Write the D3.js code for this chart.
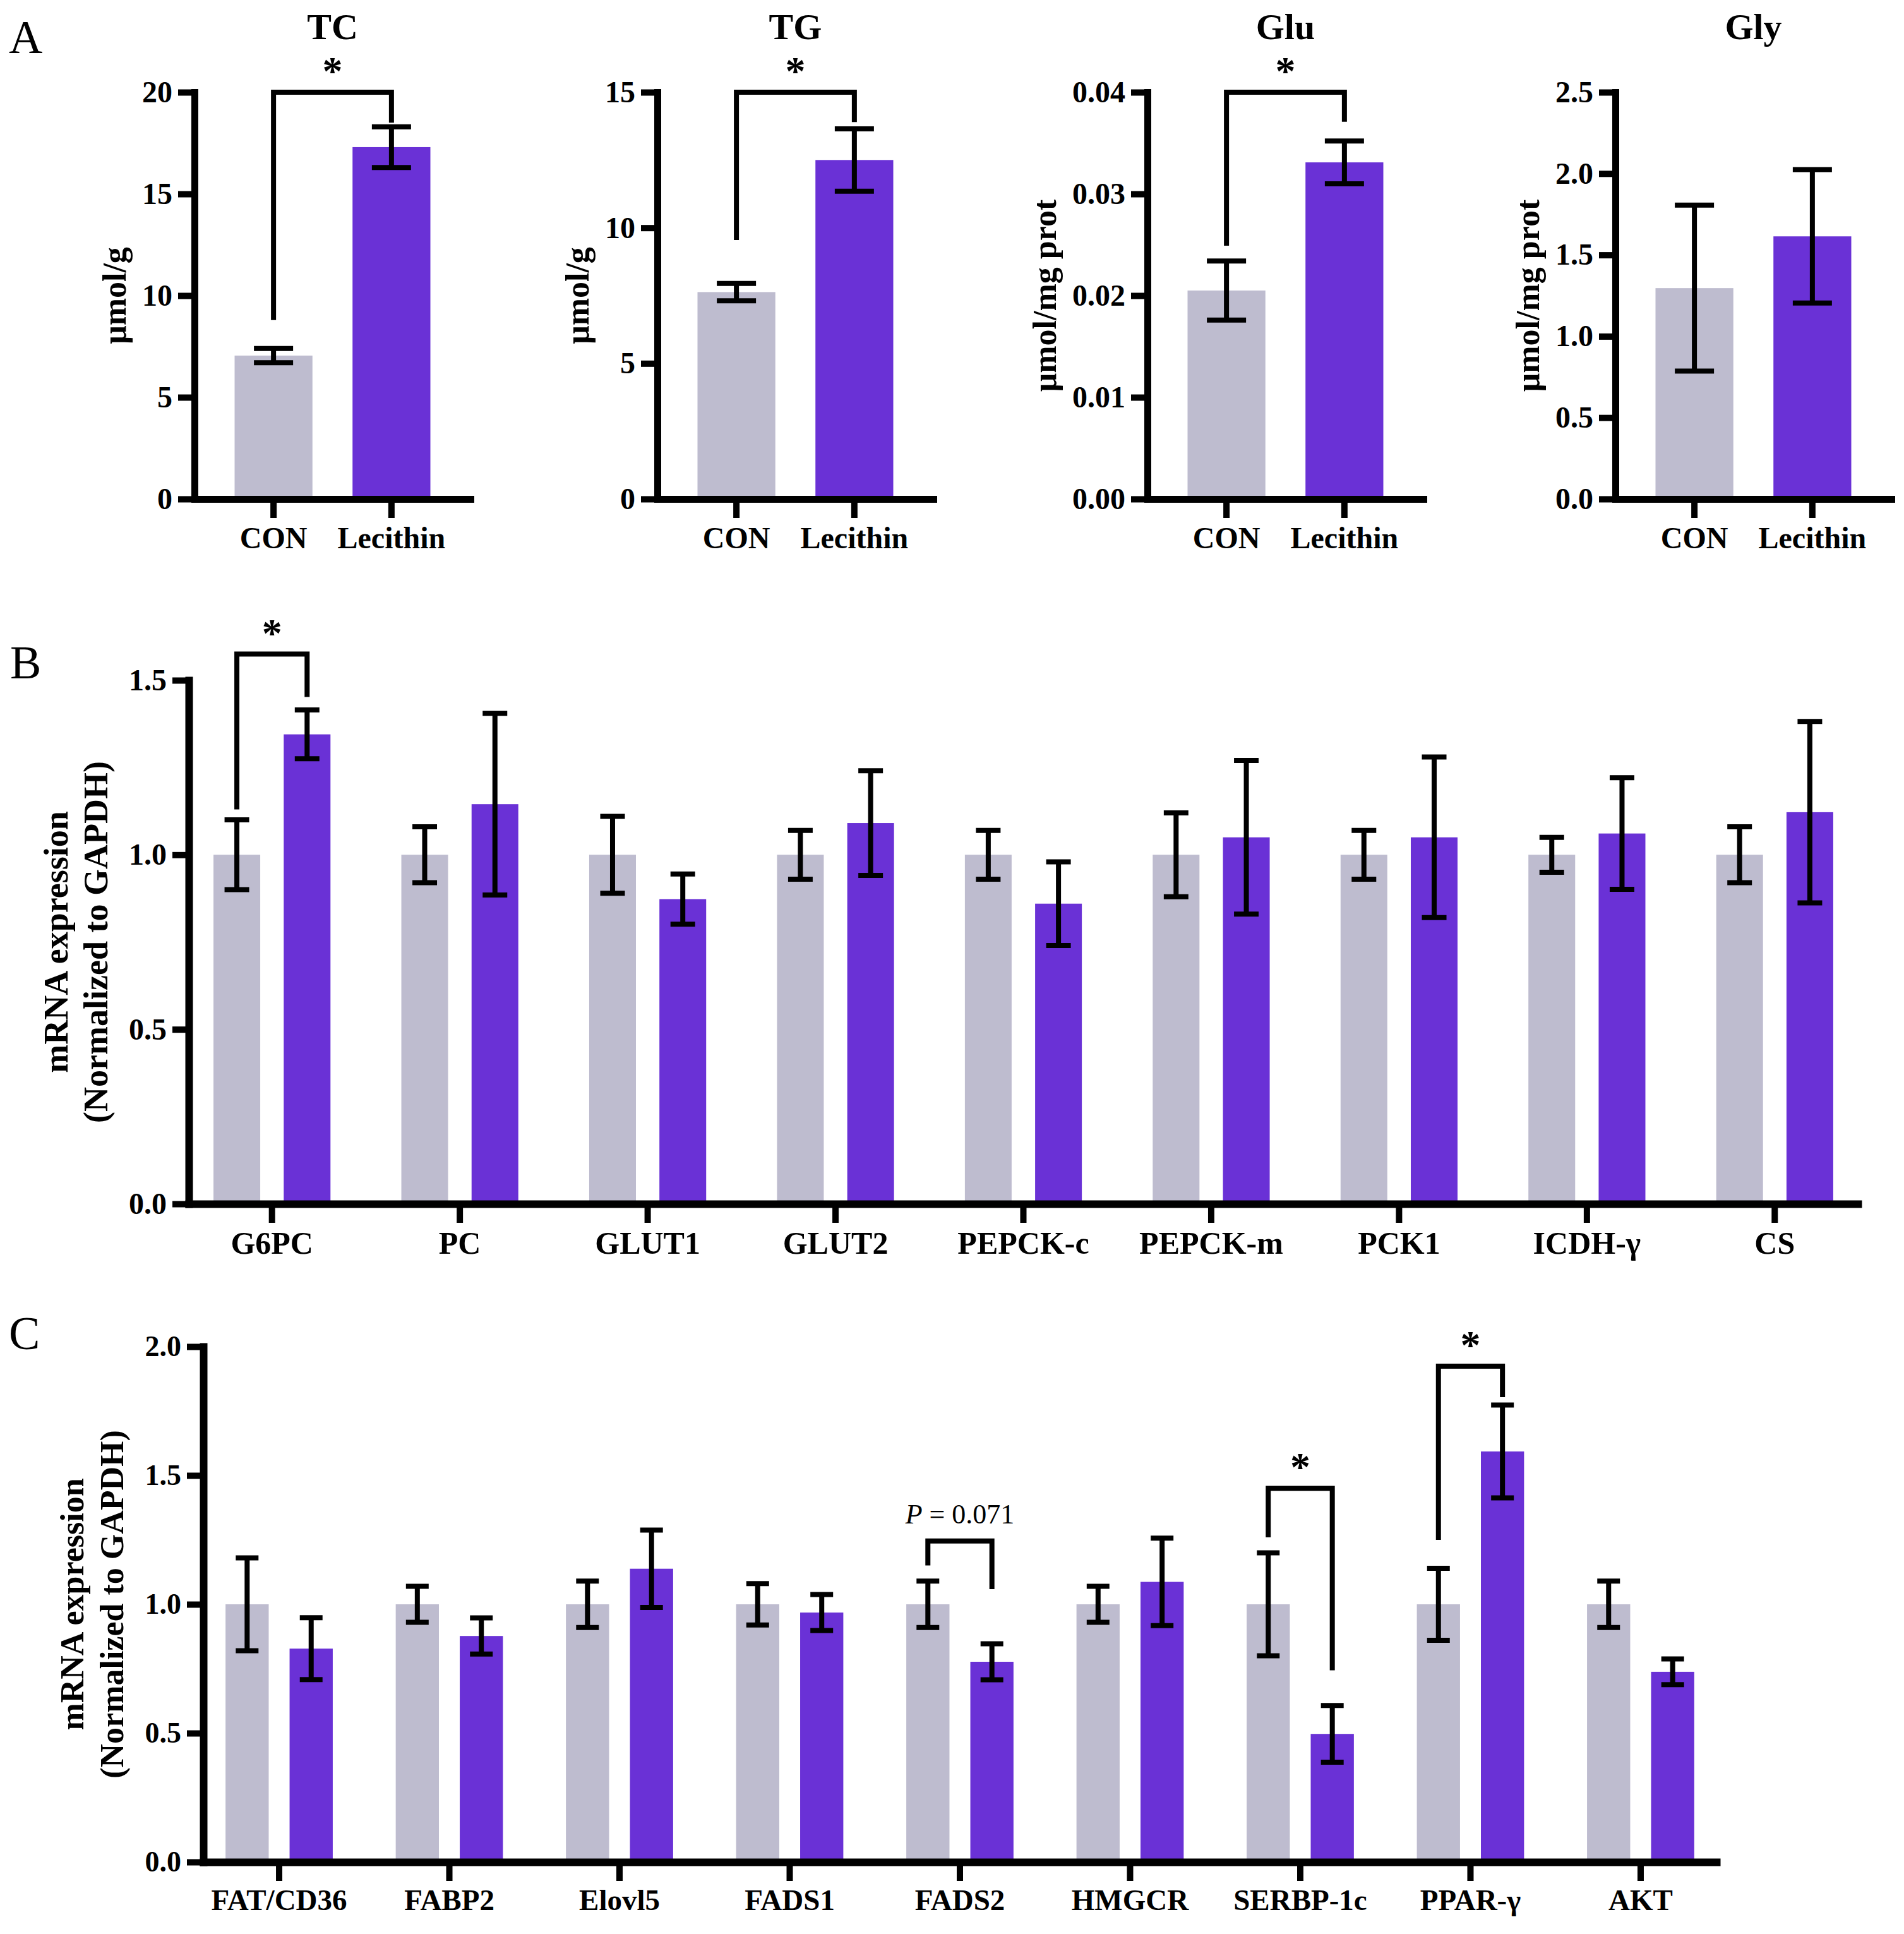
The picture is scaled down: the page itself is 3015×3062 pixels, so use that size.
<!DOCTYPE html>
<html>
<head>
<meta charset="utf-8">
<script src="https://cdn.jsdelivr.net/npm/d3@7"></script>
<style>
body { margin: 0; background: #fff; }
</style>
</head>
<body>
<script>
const svgWidth = 3015
const svgHeight = 3062

const colorCon = "#bebccf"
const colorLec = "#6a31d6"
const serif = "'Liberation Serif', 'Times New Roman', serif"

// ---- panel A data ----
const aTitles = ["TC", "TG", "Glu", "Gly"]
const aGroups = ["CON", "Lecithin"]
const aYLabels = ["μmol/g", "μmol/g", "μmol/mg prot", "μmol/mg prot"]
const aMax = [20, 15, 0.04, 2.5]
const aTicks = [[0, 5, 10, 15, 20], [0, 5, 10, 15], [0, 0.01, 0.02, 0.03, 0.04], [0, 0.5, 1, 1.5, 2, 2.5]]
const aTickFormats = ["d", "d", ".2f", ".1f"]
const aMeans = [[7.05, 17.3], [7.63, 12.5], [0.0205, 0.0331], [1.296, 1.614]]
const aErrors = [[0.35, 1.0], [0.32, 1.15], [0.0029, 0.0021], [0.51, 0.41]]
// [left leg end, right leg end, top]
const aBrackets = [[8.8, 18.5, 20], [9.55, 13.9, 15], [0.0249, 0.0371, 0.04], null]

// ---- panel B data ----
const bGenes = ["G6PC", "PC", "GLUT1", "GLUT2", "PEPCK-c", "PEPCK-m", "PCK1", "ICDH-γ", "CS"]
const bCon = [1, 1, 1, 1, 1, 1, 1, 1, 1]
const bConErr = [0.10, 0.08, 0.11, 0.07, 0.07, 0.12, 0.07, 0.05, 0.08]
const bLec = [1.345, 1.145, 0.873, 1.091, 0.86, 1.05, 1.05, 1.061, 1.122]
const bLecErr = [0.07, 0.26, 0.072, 0.15, 0.12, 0.22, 0.23, 0.16, 0.26]
const bTicks = [0, 0.5, 1, 1.5]
const bBrackets = [{ gene: "G6PC", left: 1.13, right: 1.452, top: 1.575, label: "*" }]

// ---- panel C data ----
const cGenes = ["FAT/CD36", "FABP2", "Elovl5", "FADS1", "FADS2", "HMGCR", "SERBP-1c", "PPAR-γ", "AKT"]
const cCon = [1, 1, 1, 1, 1, 1, 1, 1, 1]
const cConErr = [0.18, 0.07, 0.09, 0.08, 0.09, 0.07, 0.20, 0.14, 0.09]
const cLec = [0.828, 0.877, 1.138, 0.968, 0.777, 1.087, 0.497, 1.593, 0.738]
const cLecErr = [0.12, 0.07, 0.15, 0.07, 0.07, 0.17, 0.11, 0.18, 0.05]
const cTicks = [0, 0.5, 1, 1.5, 2]
const cBrackets = [
    { gene: "FADS2", left: 1.151, right: 1.059, top: 1.246, label: "P = 0.071" },
    { gene: "SERBP-1c", left: 1.26, right: 0.744, top: 1.45, label: "*" },
    { gene: "PPAR-γ", left: 1.25, right: 1.804, top: 1.924, label: "*" }
]

const svg = d3.select("body").append("svg")
    .attr("width", svgWidth)
    .attr("height", svgHeight)
    .style("font-family", serif)

function styleAxis(g, axisWidth, fontSize) {
    g.select(".domain").attr("stroke-width", axisWidth).attr("stroke-linecap", "square")
    g.selectAll(".tick line").attr("stroke-width", 10)
    g.selectAll(".tick text")
        .attr("font-size", fontSize)
        .attr("font-weight", "bold")
        .attr("font-family", serif)
        .attr("fill", "#000")
}

function errorBar(g, x, y, mean, err, capW) {
    const top = y(mean + err), bot = y(mean - err)
    g.append("line").attr("x1", x).attr("x2", x).attr("y1", top).attr("y2", bot)
        .attr("stroke", "#000").attr("stroke-width", 8)
    ;[top, bot].forEach(v => {
        g.append("line").attr("x1", x - capW / 2).attr("x2", x + capW / 2)
            .attr("y1", v).attr("y2", v)
            .attr("stroke", "#000").attr("stroke-width", 8)
    })
}

function bracket(g, xL, xR, y, b, label, labelSize, italic) {
    g.append("path")
        .attr("d", `M${xL},${y(b.left)}V${y(b.top)}H${xR}V${y(b.right)}`)
        .attr("fill", "none").attr("stroke", "#000").attr("stroke-width", 8)
    if (label === "*") {
        g.append("text").attr("x", (xL + xR) / 2).attr("y", y(b.top) - 12)
            .attr("text-anchor", "middle").attr("font-size", 64).attr("font-weight", "bold")
            .text("*")
    } else {
        const t = g.append("text").attr("x", (xL + xR) / 2).attr("y", y(b.top) - 28)
            .attr("text-anchor", "middle").attr("font-size", labelSize)
        t.append("tspan").attr("font-style", "italic").text(label.slice(0, 1))
        t.append("tspan").text(label.slice(1))
    }
}

function panelLetter(txt, x, y) {
    svg.append("text").attr("x", x).attr("y", y).attr("font-size", 74).text(txt)
}

// ---------------- panel A ----------------
const aAxisX = [308, 1041, 1817, 2558]
const aWidth = 437
const aTop = 146
const aBottom = 790

panelLetter("A", 14, 84)

aTitles.forEach((title, i) => {
    const g = svg.append("g")

    const x = d3.scaleBand().domain(aGroups)
        .range([aAxisX[i], aAxisX[i] + aWidth])
        .paddingInner(0.34).paddingOuter(0.34)
    const y = d3.scaleLinear().domain([0, aMax[i]]).range([aBottom, aTop])

    g.selectAll("rect").data(aGroups).join("rect")
        .attr("x", d => x(d))
        .attr("width", x.bandwidth())
        .attr("y", (d, j) => y(aMeans[i][j]))
        .attr("height", (d, j) => y(0) - y(aMeans[i][j]))
        .attr("fill", (d, j) => j === 0 ? colorCon : colorLec)

    aGroups.forEach((d, j) => errorBar(g, x(d) + x.bandwidth() / 2, y, aMeans[i][j], aErrors[i][j], 62))

    const yAxisG = g.append("g")
        .attr("transform", `translate(${aAxisX[i]},0)`)
        .call(d3.axisLeft(y).tickValues(aTicks[i]).tickFormat(d3.format(aTickFormats[i]))
            .tickSize(26).tickSizeOuter(0).tickPadding(9))
    styleAxis(yAxisG, 11, 48)

    const xAxisG = g.append("g")
        .attr("transform", `translate(0,${aBottom})`)
        .call(d3.axisBottom(x).tickSize(30).tickSizeOuter(0).tickPadding(14))
    styleAxis(xAxisG, 11, 48)

    const tb = yAxisG.node().getBBox()
    g.append("text")
        .attr("transform", `translate(${aAxisX[i] + tb.x - 44},${(aTop + aBottom) / 2}) rotate(-90)`)
        .attr("text-anchor", "middle").attr("dominant-baseline", "central")
        .attr("font-size", 52).attr("font-weight", "bold")
        .text(aYLabels[i])

    const cx = (x("CON") + x("Lecithin") + x.bandwidth()) / 2
    g.append("text").attr("x", cx).attr("y", 62)
        .attr("text-anchor", "middle").attr("font-size", 58).attr("font-weight", "bold")
        .text(title)

    if (aBrackets[i]) {
        const b = aBrackets[i]
        bracket(g, x("CON") + x.bandwidth() / 2, x("Lecithin") + x.bandwidth() / 2, y,
            { left: b[0], right: b[1], top: b[2] }, "*")
    }
})

// ---------------- panels B and C ----------------
function genePanel(opt) {
    const g = svg.append("g")

    const x0 = d3.scaleBand().domain(opt.genes)
        .range([opt.left, opt.right])
        .paddingInner(0.2).paddingOuter(opt.outer)
    const x1 = d3.scaleBand().domain(aGroups)
        .range([0, x0.bandwidth()])
        .paddingInner(opt.innerPad).paddingOuter(opt.innerOuter)
    const y = d3.scaleLinear().domain([0, opt.max]).range([opt.bottom, opt.top])

    const rows = opt.genes.map((gene, i) => ({
        gene: gene,
        vals: [[opt.con[i], opt.conErr[i]], [opt.lec[i], opt.lecErr[i]]]
    }))

    const groups = g.selectAll("g.gene").data(rows).join("g")
        .attr("class", "gene")
        .attr("transform", d => `translate(${x0(d.gene)},0)`)

    groups.selectAll("rect").data(d => d.vals).join("rect")
        .attr("x", (d, j) => x1(aGroups[j]))
        .attr("width", x1.bandwidth())
        .attr("y", d => y(d[0]))
        .attr("height", d => y(0) - y(d[0]))
        .attr("fill", (d, j) => j === 0 ? colorCon : colorLec)

    groups.each(function (d) {
        const gg = d3.select(this)
        d.vals.forEach((v, j) => errorBar(gg, x1(aGroups[j]) + x1.bandwidth() / 2, y, v[0], v[1], opt.capW))
    })

    const yAxisG = g.append("g")
        .attr("transform", `translate(${opt.left},0)`)
        .call(d3.axisLeft(y).tickValues(opt.ticks).tickFormat(d3.format(".1f"))
            .tickSize(26).tickSizeOuter(0).tickPadding(9))
    styleAxis(yAxisG, 12, opt.tickSize)

    const xAxisG = g.append("g")
        .attr("transform", `translate(0,${opt.bottom})`)
        .call(d3.axisBottom(x0).tickSize(30).tickSizeOuter(0).tickPadding(13))
    styleAxis(xAxisG, 12, opt.labelSize)

    const tb = yAxisG.node().getBBox()
    const lx = opt.left + tb.x - 52
    const yc = (opt.top + opt.bottom) / 2
    ;[["mRNA expression", lx - 63], ["(Normalized to GAPDH)", lx]].forEach(([txt, px]) => {
        g.append("text")
            .attr("transform", `translate(${px},${yc}) rotate(-90)`)
            .attr("text-anchor", "middle").attr("dominant-baseline", "central")
            .attr("font-size", opt.yLabelSize).attr("font-weight", "bold")
            .text(txt)
    })

    opt.brackets.forEach(b => {
        const gx = x0(b.gene)
        bracket(g, gx + x1("CON") + x1.bandwidth() / 2, gx + x1("Lecithin") + x1.bandwidth() / 2,
            y, b, b.label, 44)
    })
}

panelLetter("B", 16, 1074)
genePanel({
    genes: bGenes, con: bCon, conErr: bConErr, lec: bLec, lecErr: bLecErr,
    ticks: bTicks, max: 1.5, brackets: bBrackets,
    left: 299, right: 2942, top: 1077, bottom: 1906,
    outer: 0.0427, innerPad: 0.3345, innerOuter: 0.237,
    capW: 39, tickSize: 48, labelSize: 50, yLabelSize: 54
})

panelLetter("C", 14, 2136)
genePanel({
    genes: cGenes, con: cCon, conErr: cConErr, lec: cLec, lecErr: cLecErr,
    ticks: cTicks, max: 2, brackets: cBrackets,
    left: 322, right: 2718, top: 2132, bottom: 2948,
    outer: 0.0454, innerPad: 0.326, innerOuter: 0.226,
    capW: 36, tickSize: 46, labelSize: 47, yLabelSize: 52
})
</script>
</body>
</html>
